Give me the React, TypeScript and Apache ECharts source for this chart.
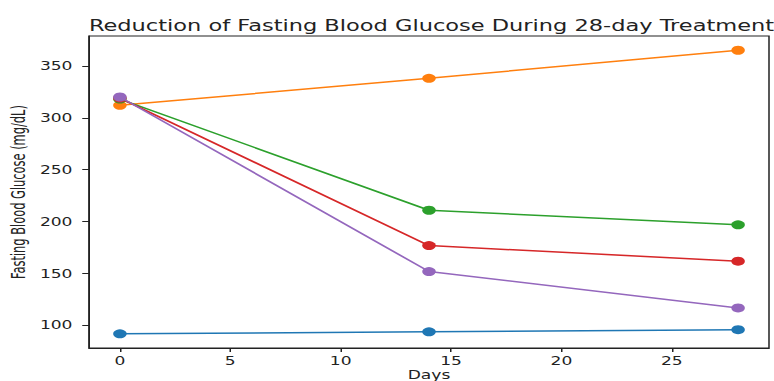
import React, { useEffect, useRef } from "react";
import * as echarts from "echarts";

const days = [0, 14, 28];
const seriesNames = ["Group A", "Group B", "Group C", "Group D", "Group E"];
const groupA = [92, 94, 96];
const groupB = [312, 338, 365];
const groupC = [318, 211, 197];
const groupD = [319, 177, 162];
const groupE = [320, 152, 117];
const colors = ["#1f77b4", "#ff7f0e", "#2ca02c", "#d62728", "#9467bd"];
const xTicks = [0, 5, 10, 15, 20, 25];
const yTicks = [100, 150, 200, 250, 300, 350];

const font = "DejaVu Sans";
const SX = 1.5;
const W = 774;
const H = 381;
const textColor = "#222222";

export default function App() {
  const ref = useRef<HTMLDivElement>(null);
  useEffect(() => {
    if (!ref.current) return;
    const chart = echarts.init(ref.current, undefined, { renderer: "svg" });
    const all = [groupA, groupB, groupC, groupD, groupE];
    chart.setOption({
      animation: false,
      backgroundColor: "#ffffff",
      title: {
        text: "Reduction of Fasting Blood Glucose During 28-day Treatment",
        left: 424 / SX,
        textAlign: "center",
        top: 13,
        textStyle: { fontFamily: font, fontSize: 15, fontWeight: "normal", color: textColor },
      },
      grid: {
        left: 89 / SX,
        right: 5 / SX,
        top: 36,
        bottom: 33,
        show: true,
        borderColor: textColor,
        borderWidth: 1,
        backgroundColor: "transparent",
        outerBoundsMode: "none",
      },
      xAxis: {
        type: "value",
        min: -1.4,
        max: 29.4,
        name: "Days",
        nameLocation: "middle",
        nameGap: 22,
        nameMoveOverlap: false,
        nameTextStyle: { fontFamily: font, fontSize: 11.4, color: textColor },
        axisLine: { show: true, onZero: false, lineStyle: { color: textColor, width: 1 } },
        axisTick: { show: true, length: 4, customValues: xTicks, lineStyle: { color: textColor } },
        axisLabel: { customValues: xTicks, fontFamily: font, fontSize: 11.4, color: textColor, margin: 8 },
        splitLine: { show: false },
      },
      yAxis: {
        type: "value",
        min: 78.4,
        max: 378.7,
        name: "Fasting Blood Glucose (mg/dL)",
        nameLocation: "middle",
        nameGap: 40.7,
        nameMoveOverlap: false,
        nameRotate: 90,
        nameTextStyle: { fontFamily: "DejaVu Sans Condensed", fontSize: 12.7, color: textColor },
        axisLine: { show: true, onZero: false, lineStyle: { color: textColor, width: 1 } },
        axisTick: { show: true, length: 4.5, customValues: yTicks, lineStyle: { color: textColor } },
        axisLabel: { customValues: yTicks, fontFamily: font, fontSize: 11.4, color: textColor, margin: 11 },
        splitLine: { show: false },
      },
      series: all.map((vals, i) => ({
        name: seriesNames[i],
        type: "line",
        data: days.map((d, j) => [d, vals[j]]),
        symbol: "circle",
        symbolSize: 9,
        lineStyle: { color: colors[i], width: 1.5 },
        itemStyle: { color: colors[i] },
        z: 2 + i,
      })),
    });
    return () => chart.dispose();
  }, []);
  return (
    <div style={{ position: "fixed", left: 0, top: 0, width: W, height: H, overflow: "hidden", background: "#fff" }}>
      <div
        ref={ref}
        style={{
          position: "absolute",
          left: 0,
          top: 0,
          width: W / SX,
          height: H,
          transform: `scale(${SX}, 1)`,
          transformOrigin: "0 0",
        }}
      />
    </div>
  );
}
